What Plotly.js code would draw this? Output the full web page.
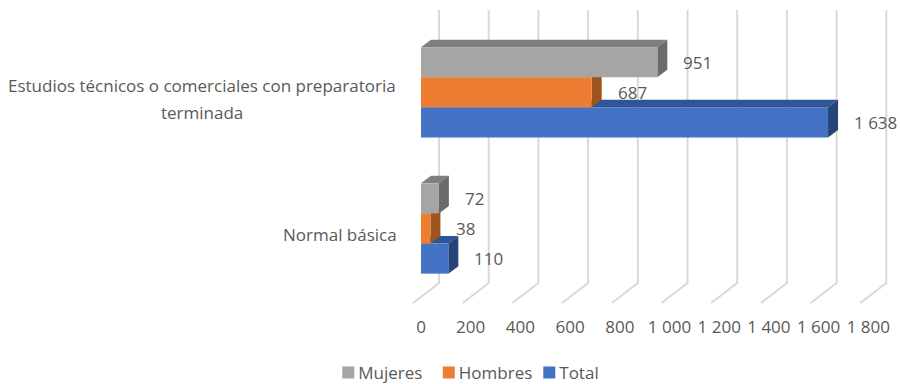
<!DOCTYPE html>
<html>
<head>
<meta charset="utf-8">
<script src="https://cdn.plot.ly/plotly-3.0.1.min.js"></script>
<style>html,body{margin:0;padding:0;background:#fff;overflow:hidden}#chart{width:900px;height:384px;overflow:hidden}</style>
</head>
<body>
<div id="chart"></div>
<script>
var categoryPositions = [0, 1];
var seriesNames = ["Total", "Hombres", "Mujeres"];
var totalValues = [110, 1638];
var hombresValues = [38, 687];
var mujeresValues = [72, 951];
var tickValues = [0, 200, 400, 600, 800, 1000, 1200, 1400, 1600, 1800];
var tickLabels = ["0", "200", "400", "600", "800", "1 000", "1 200", "1 400", "1 600", "1 800"];
var dataLabels = { Total: ["110", "1 638"], Hombres: ["38", "687"], Mujeres: ["72", "951"] };
var frontColors = ["#4472C4", "#ED7D31", "#A5A5A5"];
var topColors = ["#2F5597", "#AE5A21", "#7F7F7F"];
var sideColors = ["#264478", "#9E541F", "#6B6B6B"];

var allValues = [totalValues, hombresValues, mujeresValues];
var pxX = 0.2485, pxY = 136.2;
var FONT = '"Open Sans", sans-serif', TXT = '#595959', FS = 17;
var xRange = [-10 / pxX, 478 / pxX];
var yRange = [(228.5 - 384) / pxY, 228.5 / pxY];
var slot = 30.1 / pxY;
var depthX = 10 / pxX, depthY = 7.5 / pxY;

var traces = [];

// slanted walls: floor front edge -> back wall corner -> wall top
var gx = [], gy = [];
tickValues.forEach(function (v) {
  gx.push(v - 8 / pxX, v + 18 / pxX, v + 18 / pxX, null);
  gy.push((228.5 - 303) / pxY, (228.5 - 283) / pxY, (228.5 - 10) / pxY, null);
});
traces.push({ x: gx, y: gy, mode: 'lines', line: { color: '#D9D9D9', width: 2 }, hoverinfo: 'skip', showlegend: false, xaxis: 'x', yaxis: 'y' });

// depth faces, painted back to front, under the bars
allValues.forEach(function (vals, s) {
  vals.forEach(function (v, c) {
    var yc = categoryPositions[c] + (s - 1) * slot;
    var t = yc + slot / 2, b = yc - slot / 2;
    traces.push({ x: [0, v, v + depthX, depthX, 0], y: [t, t, t + depthY, t + depthY, t], mode: 'lines', fill: 'toself', fillcolor: topColors[s], line: { width: 0 }, hoverinfo: 'skip', showlegend: false, xaxis: 'x', yaxis: 'y' });
    traces.push({ x: [v, v + depthX, v + depthX, v, v], y: [b, b + depthY, t + depthY, t, b], mode: 'lines', fill: 'toself', fillcolor: sideColors[s], line: { width: 0 }, hoverinfo: 'skip', showlegend: false, xaxis: 'x', yaxis: 'y' });
  });
});

// front faces
allValues.forEach(function (vals, s) {
  traces.push({ type: 'bar', orientation: 'h', name: seriesNames[s], y: categoryPositions, x: vals, marker: { color: frontColors[s] }, xaxis: 'x2', yaxis: 'y2' });
});

var annotations = [];
allValues.forEach(function (vals, s) {
  vals.forEach(function (v, c) {
    annotations.push({ x: v, y: categoryPositions[c] + (s - 1) * slot, xref: 'x', yref: 'y', text: dataLabels[seriesNames[s]][c], showarrow: false, xanchor: 'left', xshift: 24, yshift: 0, font: { family: FONT, size: FS, color: TXT } });
  });
});
annotations.push({ x: 0, y: 0, xref: 'x', yref: 'y', text: 'Normal básica', showarrow: false, xanchor: 'right', xshift: -22, yshift: -6, font: { family: FONT, size: FS, color: TXT } });
annotations.push({ x: 0, y: 1, xref: 'x', yref: 'y', text: 'Estudios técnicos o comerciales con preparatoria', showarrow: false, xanchor: 'center', xshift: -219, yshift: 7, font: { family: FONT, size: FS, color: TXT } });
annotations.push({ x: 0, y: 1, xref: 'x', yref: 'y', text: 'terminada', showarrow: false, xanchor: 'center', xshift: -219, yshift: -20, font: { family: FONT, size: FS, color: TXT } });

var layout = {
  width: 900, height: 404,
  margin: { l: 411, r: 1, t: 0, b: 20, pad: 0 },
  paper_bgcolor: '#fff', plot_bgcolor: 'rgba(0,0,0,0)',
  barmode: 'group', bargap: 1 - 3 * slot, bargroupgap: 0,
  showlegend: true,
  legend: { orientation: 'h', traceorder: 'reversed', x: -0.19, xanchor: 'left', y: 11 / 384, yanchor: 'middle', entrywidth: 55.5, entrywidthmode: 'pixels', font: { family: FONT, size: FS, color: TXT }, bgcolor: 'rgba(0,0,0,0)' },
  xaxis: { range: xRange, anchor: 'free', position: (384 - 310) / 384, tickmode: 'array', tickvals: tickValues, ticktext: tickLabels, showgrid: false, zeroline: false, showline: false, ticks: 'outside', ticklen: 2, tickcolor: 'rgba(0,0,0,0)', tickfont: { family: FONT, size: FS, color: TXT }, fixedrange: true },
  yaxis: { range: yRange, showgrid: false, zeroline: false, showline: false, showticklabels: false, ticks: '', fixedrange: true },
  xaxis2: { range: xRange, overlaying: 'x', visible: false, fixedrange: true },
  yaxis2: { range: yRange, overlaying: 'y', visible: false, fixedrange: true },
  annotations: annotations
};
Plotly.newPlot('chart', traces, layout, { displayModeBar: false, staticPlot: true }).then(function () {
  document.querySelectorAll('#chart .legend .traces .layers').forEach(function (g) {
    g.setAttribute('transform', 'translate(10,0)');
  });
});
</script>
</body>
</html>
